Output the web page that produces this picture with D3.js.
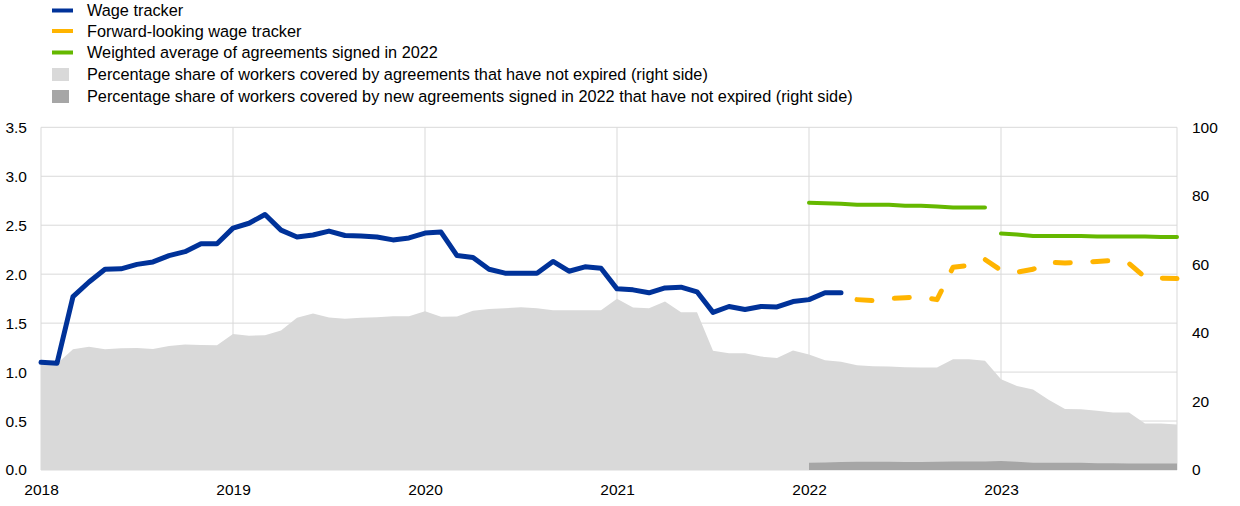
<!DOCTYPE html>
<html><head><meta charset="utf-8">
<script src="https://cdn.jsdelivr.net/npm/d3@7"></script>
<style>
body{margin:0;background:#fff;}
text{font-family:Arial,"Liberation Sans",sans-serif;fill:#000;}
</style></head>
<body>
<svg id="chart" width="1240" height="506"></svg>
<script>
const months = ["2018-01","2018-02","2018-03","2018-04","2018-05","2018-06","2018-07","2018-08","2018-09","2018-10","2018-11","2018-12",
"2019-01","2019-02","2019-03","2019-04","2019-05","2019-06","2019-07","2019-08","2019-09","2019-10","2019-11","2019-12",
"2020-01","2020-02","2020-03","2020-04","2020-05","2020-06","2020-07","2020-08","2020-09","2020-10","2020-11","2020-12",
"2021-01","2021-02","2021-03","2021-04","2021-05","2021-06","2021-07","2021-08","2021-09","2021-10","2021-11","2021-12",
"2022-01","2022-02","2022-03","2022-04","2022-05","2022-06","2022-07","2022-08","2022-09","2022-10","2022-11","2022-12",
"2023-01","2023-02","2023-03","2023-04","2023-05","2023-06","2023-07","2023-08","2023-09","2023-10","2023-11","2023-12"];
const months2022 = months.slice(48,60);
const months2023 = months.slice(60,72);
const yearTicks = ["2018","2019","2020","2021","2022","2023"];
const leftTicks = [0,0.5,1,1.5,2,2.5,3,3.5];
const rightTicks = [0,20,40,60,80,100];

const wageTracker = [1.10,1.09,1.77,1.92,2.05,2.055,2.10,2.125,2.19,2.23,2.31,2.31,
2.47,2.52,2.61,2.45,2.38,2.40,2.44,2.395,2.39,2.38,2.35,2.37,
2.42,2.43,2.19,2.17,2.05,2.01,2.01,2.01,2.13,2.03,2.075,2.06,
1.85,1.84,1.81,1.86,1.867,1.82,1.61,1.67,1.64,1.67,1.665,1.72,
1.74,1.81,1.81,null,null,null,null,null,null,null,null,null,
null,null,null,null,null,null,null,null,null,null,null,null];
const forwardTracker = [null,null,null,null,null,null,null,null,null,null,null,null,
null,null,null,null,null,null,null,null,null,null,null,null,
null,null,null,null,null,null,null,null,null,null,null,null,
null,null,null,null,null,null,null,null,null,null,null,null,
null,null,null,1.74,1.73,1.75,1.76,1.765,1.74,2.07,2.09,2.15,
2.04,2.02,2.05,2.12,2.115,2.12,2.13,2.14,2.11,1.97,1.96,1.955];
const weighted2022 = [2.73,2.725,2.72,2.71,2.71,2.71,2.70,2.70,2.69,2.68,2.68,2.68];
const weighted2023 = [2.415,2.405,2.39,2.39,2.39,2.39,2.385,2.385,2.385,2.385,2.38,2.38];
const shareNotExpired = [31,31,35.2,36.0,35.2,35.5,35.6,35.3,36.2,36.6,36.5,36.4,
39.7,39.2,39.3,40.7,44.4,45.7,44.5,44.1,44.4,44.6,44.9,44.9,
46.3,44.7,44.8,46.5,47.0,47.2,47.5,47.2,46.6,46.6,46.6,46.6,
50.0,47.4,47.2,49.2,46.0,46.0,34.8,34.1,34.1,33.1,32.7,34.9,
33.7,32.0,31.6,30.6,30.3,30.2,30.0,29.9,29.9,32.3,32.3,31.9,
26.5,24.5,23.5,20.4,17.8,17.7,17.3,16.8,16.8,13.6,13.6,13.3];
const shareNew2022 = [2.1,2.2,2.3,2.4,2.4,2.4,2.3,2.3,2.4,2.5,2.5,2.5,
2.6,2.4,2.1,2.1,2.1,2.1,2.0,2.0,1.9,1.9,1.9,1.9];
const months2022on = months.slice(48,72);

const legendItems = [
 {label:"Wage tracker", type:"line", color:"#003299"},
 {label:"Forward-looking wage tracker", type:"line", color:"#ffb400"},
 {label:"Weighted average of agreements signed in 2022", type:"line", color:"#65b800"},
 {label:"Percentage share of workers covered by agreements that have not expired (right side)", type:"rect", color:"#d9d9d9"},
 {label:"Percentage share of workers covered by new agreements signed in 2022 that have not expired (right side)", type:"rect", color:"#a6a6a6"}
];

const svg = d3.select("#chart");
const L = 41, R = 1177, T = 127.3, B = 470;
const x = d3.scalePoint().domain(months).range([L, R]);
const yL = d3.scaleLinear().domain([0,3.5]).range([B,T]);
const yR = d3.scaleLinear().domain([0,100]).range([B,T]);

const grid = svg.append("g");
grid.selectAll("line.h").data(leftTicks).join("line")
  .attr("x1",L).attr("x2",R).attr("y1",d=>yL(d)).attr("y2",d=>yL(d))
  .attr("stroke","#d9d9d9").attr("stroke-width",1);
grid.selectAll("line.v").data(yearTicks.map(y=>y+"-01").concat([months[71]])).join("line")
  .attr("x1",d=>x(d)).attr("x2",d=>x(d)).attr("y1",T).attr("y2",B)
  .attr("stroke","#d9d9d9").attr("stroke-width",1);

const areaR = d3.area().x(d=>x(d.m)).y0(yR(0)).y1(d=>yR(d.v));
svg.append("path").datum(months.map((m,i)=>({m,v:shareNotExpired[i]})))
  .attr("d",areaR).attr("fill","#d9d9d9");
svg.append("path").datum(months2022on.map((m,i)=>({m,v:shareNew2022[i]})))
  .attr("d",areaR).attr("fill","#a6a6a6");

const lineL = d3.line().defined(d=>d.v!=null).x(d=>x(d.m)).y(d=>yL(d.v));
svg.append("path").datum(months.map((m,i)=>({m,v:wageTracker[i]})))
  .attr("d",lineL).attr("fill","none").attr("stroke","#003299").attr("stroke-width",5)
  .attr("stroke-linejoin","round").attr("stroke-linecap","round");
svg.append("path").datum(months.map((m,i)=>({m,v:forwardTracker[i]})))
  .attr("d",lineL).attr("fill","none").attr("stroke","#ffb400").attr("stroke-width",5)
  .attr("stroke-dasharray","15,22.5").attr("stroke-linejoin","round").attr("stroke-linecap","round");
[[months2022,weighted2022],[months2023,weighted2023]].forEach(([ms,vs])=>{
  svg.append("path").datum(ms.map((m,i)=>({m,v:vs[i]})))
    .attr("d",lineL).attr("fill","none").attr("stroke","#65b800").attr("stroke-width",4)
    .attr("stroke-linejoin","round").attr("stroke-linecap","round");
});

// axes
const axL = svg.append("g").attr("transform",`translate(${L-14},0)`)
  .call(d3.axisLeft(yL).tickValues(leftTicks).tickFormat(d3.format(".1f")).tickSize(0).tickPadding(0));
const axR = svg.append("g").attr("transform",`translate(${R+15},0)`)
  .call(d3.axisRight(yR).tickValues(rightTicks).tickSize(0).tickPadding(0));
const axX = svg.append("g").attr("transform",`translate(0,${B+14})`)
  .call(d3.axisBottom(x).tickValues(yearTicks.map(y=>y+"-01")).tickFormat(d=>d.slice(0,4)).tickSize(0).tickPadding(0));
[axL,axR,axX].forEach(a=>{a.select(".domain").remove(); a.selectAll("text").attr("font-size",15.5).attr("fill","#000")
  .style("font-family","Arial, 'Liberation Sans', sans-serif");});
axX.selectAll("text").attr("dy","0.71em");

// legend
const leg = svg.append("g");
const rowY = [10.5,31,52.5,74.5,96.5];
legendItems.forEach((it,i)=>{
  const g = leg.append("g").attr("transform",`translate(0,${rowY[i]})`);
  if(it.type==="line") g.append("rect").attr("x",52).attr("y",-2).attr("width",21).attr("height",4).attr("fill",it.color);
  else g.append("rect").attr("x",52).attr("y",-6.5).attr("width",17).attr("height",13).attr("fill",it.color);
  g.append("text").attr("x",87).attr("y",5.8).attr("font-size",16.3).text(it.label);
});
</script>
</body></html>
